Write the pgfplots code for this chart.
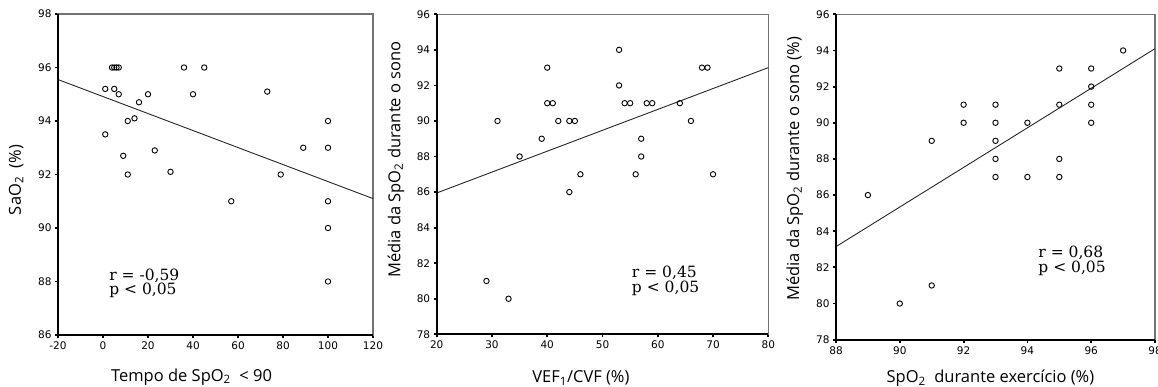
\documentclass[border=0pt]{standalone}
\usepackage{pgfplots}
\pgfplotsset{compat=1.18}
\usepackage{fontspec}
\setmainfont{DejaVu Sans}
\newfontfamily\tickfont{DejaVu Sans}
\newfontfamily\labfont{Open Sans}
\newfontfamily\annfont{DejaVu Serif}
\pgfplotsset{
  panel/.style={
    scale only axis,
    anchor=south west,
    axis line style={draw=black!55, line width=1.2pt},
    tick style={black, line width=1.8pt},
    major tick length=3pt,
    tick align=outside,
    xtick pos=bottom, ytick pos=left,
    ticklabel style={font=\tickfont\fontsize{10.5}{12}\selectfont, text=black},
    /pgf/number format/assume math mode=true,
    label style={font=\labfont\fontsize{16.5}{19}\selectfont},
    clip=false,
  },
  pts/.style={only marks, mark=o, mark size=2.7pt, mark options={black, line width=0.9pt}},
  reg/.style={black!85, line width=0.9pt, no marks},
}
\begin{document}
\begin{tikzpicture}
% ---------- Panel 1
\begin{axis}[panel, at={(58pt,-335pt)}, width=315pt, height=321pt,
  xmin=-20, xmax=120, ymin=86, ymax=98,
  xtick={-20,0,...,120}, ytick={86,88,...,98},
  xlabel={Tempo de SpO\textsubscript{2}\ \ < 90},
  ylabel={SaO\textsubscript{2}\ \ (\%)},
  xlabel style={at={(axis description cs:0.424,-0.13)}, anchor=center},
  ylabel style={at={(axis description cs:-0.133,0.483)}, anchor=center},
]
\addplot[pts] coordinates {
(1,93.5) (1,95.2) (5,95.2) (4,96) (5,96) (6,96) (7,96) (7,95) (9,92.7)
(11,94) (11,92) (14,94.1) (16,94.7) (20,95) (23,92.9) (30,92.1) (36,96)
(40,95) (45,96) (57,91) (73,95.1) (79,92) (89,93)
(100,94) (100,93) (100,91) (100,90) (100,88)
};
\addplot[reg] coordinates {(-20,95.55) (120,91.1)};
\draw[black, line width=1.8pt] (rel axis cs:0,1) -- (rel axis cs:0,0) -- (rel axis cs:1,0);
\node[anchor=west, align=left, inner sep=0pt, font=\annfont\fontsize{15.5}{12.5}\selectfont] at (axis cs:2.7,87.93) {r = -0,59\\p < 0,05};
\end{axis}
% ---------- Panel 2
\begin{axis}[panel, at={(436.7pt,-334.3pt)}, width=331.6pt, height=320pt,
  xmin=20, xmax=80, ymin=78, ymax=96,
  xtick={20,30,...,80}, ytick={78,80,...,96},
  xlabel={VEF\textsubscript{1}/CVF (\%)},
  ylabel={Média da SpO\textsubscript{2} durante o sono},
  xlabel style={at={(axis description cs:0.435,-0.1375)}, anchor=center},
  ylabel style={at={(axis description cs:-0.123,0.546)}, anchor=center},
]
\addplot[pts] coordinates {
(31,90) (35,88) (39,89) (40,93) (40,91) (41,91) (42,90) (44,90) (45,90)
(44,86) (46,87) (53,94) (53,92) (54,91) (55,91) (56,87) (57,89) (57,88)
(58,91) (59,91) (64,91) (66,90) (68,93) (69,93) (70,87) (29,81) (33,80)
};
\addplot[reg] coordinates {(20,85.95) (80,93.0)};
\draw[black, line width=1.8pt] (rel axis cs:0,1) -- (rel axis cs:0,0) -- (rel axis cs:1,0);
\node[anchor=west, align=left, inner sep=0pt, font=\annfont\fontsize{15.5}{12.5}\selectfont] at (axis cs:55.3,81.0) {r = 0,45\\p < 0,05};
\end{axis}
% ---------- Panel 3
\begin{axis}[panel, at={(836pt,-339.7pt)}, width=319pt, height=325.4pt,
  xmin=88, xmax=98, ymin=78, ymax=96,
  xtick={88,90,...,98}, ytick={78,80,...,96},
  xlabel={SpO\textsubscript{2}\ \ durante exercício (\%)},
  ylabel={Média da SpO\textsubscript{2} durante o sono (\%)},
  xlabel style={at={(axis description cs:0.484,-0.118)}, anchor=center},
  ylabel style={at={(axis description cs:-0.129,0.525)}, anchor=center},
]
\addplot[pts] coordinates {
(89,86) (91,89) (92,91) (92,90) (93,91) (93,90) (93,89) (93,88) (93,87)
(94,90) (94,87) (95,93) (95,91) (95,88) (95,87) (96,93) (96,92) (96,91) (96,90)
(97,94) (90,80) (91,81)
};
\addplot[reg] coordinates {(88,83.15) (98,94.1)};
\draw[black, line width=1.8pt] (rel axis cs:0,1) -- (rel axis cs:0,0) -- (rel axis cs:1,0);
\node[anchor=west, align=left, inner sep=0pt, font=\annfont\fontsize{15.5}{12.5}\selectfont] at (axis cs:94.34,82.35) {r = 0,68\\p < 0,05};
\end{axis}
\pgfresetboundingbox
\useasboundingbox (0pt,-387pt) rectangle (1158pt,0pt);
\end{tikzpicture}
\end{document}
